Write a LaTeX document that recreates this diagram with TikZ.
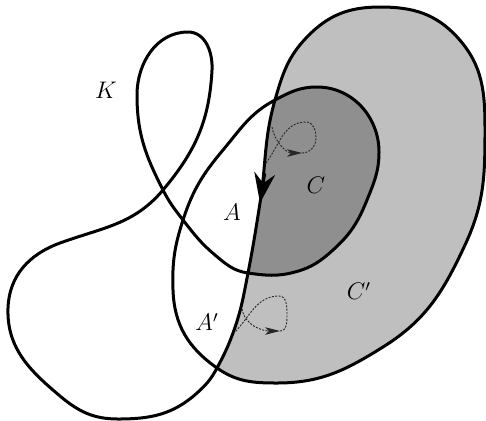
\documentclass[tikz,border=0pt]{standalone}
\usetikzlibrary{arrows.meta}
\begin{document}
\begin{tikzpicture}[x=0.5pt,y=0.5pt,
  kline/.style={line width=1.5pt, line join=round},
  dots/.style={line width=0.45pt, dash pattern=on 1pt off 0.7pt, black!85},
  smalltip/.style={-{Stealth[length=7.5pt,width=3.8pt,inset=2pt]}},
  bigtip/.style={-{Stealth[length=15pt,width=10.5pt,inset=5pt]}},
  lbl/.style={font=\fontsize{12}{14}\selectfont, inner sep=0pt}]
\useasboundingbox (0,0) rectangle (486,420);
% line (part of K)
\coordinate (X4) at (217,52);
\coordinate (L1) at (233,87);
\coordinate (X2) at (248,147);
\coordinate (L3) at (260,217);
\coordinate (X1) at (275,320);
\coordinate (L6) at (307,383);
\coordinate (L8) at (380,413);
% outer
\coordinate (O1) at (458,382);
\coordinate (O3) at (485,290);
\coordinate (O4) at (465,175);
\coordinate (O6) at (383,73);
\coordinate (O8) at (277,37);
% ellipse left side
\coordinate (E2) at (173,130);
\coordinate (X5) at (183,200);
\coordinate (E4) at (223,270);
% inner
\coordinate (I1) at (317,333);
\coordinate (I3) at (379,268);
\coordinate (I4) at (367,220);
\coordinate (I5) at (333,170);
\coordinate (I6) at (295,148);
\coordinate (I7) at (215,165);
% top loop
\coordinate (X3) at (163,230);
\coordinate (T2) at (137,325);
\coordinate (T4) at (188,388);
\coordinate (T6) at (212,350);
% blob
\coordinate (B2) at (60,177);
\coordinate (B4) at (8,112);
\coordinate (B6) at (60,24);
\coordinate (B7) at (118,1);
\coordinate (B9) at (197,27);

% light gray region C'
\fill[black!25] (X4) to[out=62,in=250] (L1) to[out=70,in=259] (X2) to[out=79,in=261] (L3)
  to[out=81,in=254] (X1) to[out=74,in=226] (L6) to[out=46,in=180] (L8)
  to[out=0,in=132] (O1) to[out=-48,in=90] (O3) to[out=-90,in=65] (O4)
  to[out=-115,in=32] (O6) to[out=-148,in=0] (O8) to[out=180,in=-35] (X4) -- cycle;
% dark gray region C
\fill[black!44] (X1) to[out=28,in=180] (I1) to[out=0,in=90] (I3)
  to[out=-90,in=68] (I4) to[out=-112,in=42] (I5) to[out=-138,in=15] (I6) to[out=-165,in=-8] (X2)
  to[out=79,in=261] (L3) to[out=81,in=254] (X1) -- cycle;

% the curve K
\draw[kline] (X4) to[out=62,in=250] (L1) to[out=70,in=259] (X2) to[out=79,in=261] (L3)
  to[out=81,in=254] (X1) to[out=74,in=226] (L6) to[out=46,in=180] (L8)
  to[out=0,in=132] (O1) to[out=-48,in=90] (O3) to[out=-90,in=65] (O4)
  to[out=-115,in=32] (O6) to[out=-148,in=0] (O8) to[out=180,in=-35] (X4)
  to[out=145,in=-88] (E2) to[out=92,in=-108] (X5) to[out=72,in=-130] (E4)
  to[out=50,in=-152] (X1)
  to[out=28,in=180] (I1) to[out=0,in=90] (I3)
  to[out=-90,in=68] (I4) to[out=-112,in=42] (I5) to[out=-138,in=15] (I6) to[out=-165,in=-8] (X2)
  to[out=172,in=-40] (I7) to[out=140,in=-52] (X5) to[out=128,in=-63] (X3)
  to[out=117,in=-90] (T2) to[out=90,in=180] (T4) to[out=0,in=87] (T6)
  to[out=-93,in=50] (X3)
  to[out=-130,in=20] (B2) to[out=-160,in=88] (B4)
  to[out=-92,in=140] (B6) to[out=-40,in=180] (B7) to[out=0,in=-138] (B9)
  to[out=42,in=-118] (X4) -- cycle;

% big arrow on the line
\coordinate (ArrS) at (264.7,246.6);
\draw[kline,bigtip] (ArrS) -- (L3);

% dotted curls
\coordinate (U0) at (272,293);
\coordinate (U1) at (302,267);
\coordinate (U2) at (316,282);
\coordinate (U3) at (306,298);
\coordinate (U4) at (266,257);
\draw[dots,smalltip] (U0) to[out=-80,in=180] (U1);
\draw[dots] (U1) to[out=0,in=-90] (U2) to[out=90,in=0] (U3) to[out=180,in=53] (U4);

\coordinate (V0) at (242,111);
\coordinate (V1) at (280,89);
\coordinate (V2) at (287,106);
\coordinate (V3) at (279,124);
\coordinate (V4) at (234,87);
\draw[dots,smalltip] (V0) to[out=-80,in=180] (V1);
\draw[dots] (V1) to[out=0,in=-90] (V2) to[out=90,in=0] (V3) to[out=180,in=45] (V4);

% labels
\node[lbl] (lK) at (106,330) {$K$};
\node[lbl] (lC) at (316,235) {$C$};
\node[lbl] (lA) at (232,208) {$A$};
\node[lbl] (lCp) at (359,129) {$C'$};
\node[lbl] (lAp) at (207,98) {$A'$};
\end{tikzpicture}
\end{document}
